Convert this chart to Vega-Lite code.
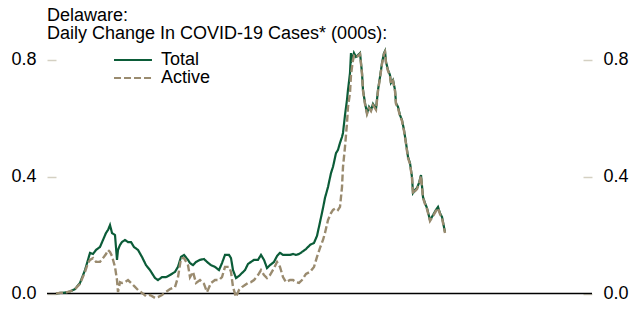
{
  "$schema": "https://vega.github.io/schema/vega-lite/v6.json",
  "width": 545,
  "height": 255,
  "autosize": {"type": "none"},
  "padding": {"left": 47, "top": 45, "right": 41, "bottom": 9},
  "background": "white",
  "title": {
    "text": ["Delaware:", "\u2005Daily Change In COVID-19 Cases* (000s):"],
    "anchor": "start",
    "frame": "group",
    "font": "Liberation Sans",
    "fontSize": 18,
    "fontWeight": "normal",
    "color": "black",
    "lineHeight": 18,
    "offset": 2
  },
  "config": {"view": {"stroke": null}, "font": "Liberation Sans"},
  "data": {"values": [
    {"d":"2020-02-29","Total":0,"Active":0},
    {"d":"2020-03-04","Total":0.002,"Active":0.002},
    {"d":"2020-03-09","Total":0.003,"Active":0.003},
    {"d":"2020-03-14","Total":0.007,"Active":0.007},
    {"d":"2020-03-19","Total":0.015,"Active":0.015},
    {"d":"2020-03-24","Total":0.036,"Active":0.033},
    {"d":"2020-03-29","Total":0.080,"Active":0.074},
    {"d":"2020-04-01","Total":0.115,"Active":0.104},
    {"d":"2020-04-03","Total":0.139,"Active":0.115},
    {"d":"2020-04-06","Total":0.135,"Active":0.121},
    {"d":"2020-04-09","Total":0.149,"Active":0.108},
    {"d":"2020-04-13","Total":0.159,"Active":0.108},
    {"d":"2020-04-16","Total":0.183,"Active":0.121},
    {"d":"2020-04-19","Total":0.207,"Active":0.135},
    {"d":"2020-04-21","Total":0.217,"Active":0.149},
    {"d":"2020-04-23","Total":0.234,"Active":0.142},
    {"d":"2020-04-25","Total":0.207,"Active":0.128},
    {"d":"2020-04-28","Total":0.200,"Active":0.091},
    {"d":"2020-04-30","Total":0.115,"Active":0.046},
    {"d":"2020-05-01","Total":0.149,"Active":0.005},
    {"d":"2020-05-03","Total":0.166,"Active":0.039},
    {"d":"2020-05-05","Total":0.176,"Active":0.036},
    {"d":"2020-05-08","Total":0.183,"Active":0.039},
    {"d":"2020-05-11","Total":0.176,"Active":0.046},
    {"d":"2020-05-14","Total":0.176,"Active":0.036},
    {"d":"2020-05-17","Total":0.159,"Active":0.026},
    {"d":"2020-05-21","Total":0.149,"Active":0.012},
    {"d":"2020-05-25","Total":0.125,"Active":0.002},
    {"d":"2020-05-29","Total":0.097,"Active":-0.009},
    {"d":"2020-06-02","Total":0.080,"Active":-0.005},
    {"d":"2020-06-07","Total":0.053,"Active":-0.015},
    {"d":"2020-06-10","Total":0.046,"Active":-0.012},
    {"d":"2020-06-14","Total":0.056,"Active":-0.005},
    {"d":"2020-06-18","Total":0.056,"Active":0.005},
    {"d":"2020-06-22","Total":0.063,"Active":0.015},
    {"d":"2020-06-27","Total":0.074,"Active":0.022},
    {"d":"2020-06-30","Total":0.091,"Active":0.056},
    {"d":"2020-07-03","Total":0.125,"Active":0.121},
    {"d":"2020-07-06","Total":0.132,"Active":0.121},
    {"d":"2020-07-10","Total":0.115,"Active":0.097},
    {"d":"2020-07-12","Total":0.104,"Active":0.056},
    {"d":"2020-07-15","Total":0.097,"Active":0.074},
    {"d":"2020-07-18","Total":0.108,"Active":0.036},
    {"d":"2020-07-22","Total":0.115,"Active":0.046},
    {"d":"2020-07-26","Total":0.118,"Active":0.033},
    {"d":"2020-07-29","Total":0.108,"Active":0.005},
    {"d":"2020-08-02","Total":0.097,"Active":0.036},
    {"d":"2020-08-06","Total":0.091,"Active":0.046},
    {"d":"2020-08-10","Total":0.080,"Active":0.046},
    {"d":"2020-08-13","Total":0.104,"Active":0.056},
    {"d":"2020-08-16","Total":0.132,"Active":0.091},
    {"d":"2020-08-20","Total":0.132,"Active":0.091},
    {"d":"2020-08-22","Total":0.121,"Active":0.074},
    {"d":"2020-08-24","Total":0.080,"Active":0.022},
    {"d":"2020-08-27","Total":0.053,"Active":-0.012},
    {"d":"2020-08-30","Total":0.060,"Active":0.012},
    {"d":"2020-09-02","Total":0.070,"Active":0.022},
    {"d":"2020-09-05","Total":0.080,"Active":0.029},
    {"d":"2020-09-08","Total":0.101,"Active":0.036},
    {"d":"2020-09-11","Total":0.108,"Active":0.039},
    {"d":"2020-09-14","Total":0.115,"Active":0.046},
    {"d":"2020-09-18","Total":0.115,"Active":0.063},
    {"d":"2020-09-21","Total":0.132,"Active":0.080},
    {"d":"2020-09-24","Total":0.115,"Active":0.063},
    {"d":"2020-09-27","Total":0.087,"Active":0.053},
    {"d":"2020-09-30","Total":0.097,"Active":0.063},
    {"d":"2020-10-04","Total":0.108,"Active":0.087},
    {"d":"2020-10-07","Total":0.128,"Active":0.108},
    {"d":"2020-10-10","Total":0.139,"Active":0.091},
    {"d":"2020-10-13","Total":0.132,"Active":0.056},
    {"d":"2020-10-16","Total":0.132,"Active":0.039},
    {"d":"2020-10-20","Total":0.132,"Active":0.046},
    {"d":"2020-10-23","Total":0.135,"Active":0.046},
    {"d":"2020-10-26","Total":0.132,"Active":0.039},
    {"d":"2020-10-29","Total":0.135,"Active":0.036},
    {"d":"2020-11-01","Total":0.142,"Active":0.046},
    {"d":"2020-11-05","Total":0.152,"Active":0.067},
    {"d":"2020-11-09","Total":0.166,"Active":0.074},
    {"d":"2020-11-13","Total":0.173,"Active":0.091},
    {"d":"2020-11-16","Total":0.197,"Active":0.125},
    {"d":"2020-11-19","Total":0.244,"Active":0.156},
    {"d":"2020-11-22","Total":0.292,"Active":0.183},
    {"d":"2020-11-24","Total":0.327,"Active":0.207},
    {"d":"2020-11-27","Total":0.364,"Active":0.251},
    {"d":"2020-11-30","Total":0.412,"Active":0.275},
    {"d":"2020-12-02","Total":0.433,"Active":0.286},
    {"d":"2020-12-05","Total":0.480,"Active":0.292},
    {"d":"2020-12-07","Total":0.491,"Active":0.286},
    {"d":"2020-12-09","Total":0.515,"Active":0.296},
    {"d":"2020-12-11","Total":0.535,"Active":0.364},
    {"d":"2020-12-12","Total":0.549,"Active":0.433},
    {"d":"2020-12-14","Total":0.610,"Active":0.501},
    {"d":"2020-12-16","Total":0.662,"Active":0.583},
    {"d":"2020-12-17","Total":0.696,"Active":0.638},
    {"d":"2020-12-19","Total":0.754,"Active":0.686},
    {"d":"2020-12-20","Total":0.822,"Active":0.747},
    {"d":"2020-12-21","Total":0.798,"Active":0.774},
    {"d":"2020-12-22","Total":0.805,"Active":0.798},
    {"d":"2020-12-23","Total":0.822,"Active":0.812},
    {"d":"2020-12-25","Total":0.809,"Active":0.806},
    {"d":"2020-12-27","Total":0.815,"Active":0.812},
    {"d":"2020-12-29","Total":0.822,"Active":0.819},
    {"d":"2020-12-31","Total":0.754,"Active":0.751},
    {"d":"2021-01-01","Total":0.696,"Active":0.693},
    {"d":"2021-01-03","Total":0.651,"Active":0.648},
    {"d":"2021-01-05","Total":0.617,"Active":0.614},
    {"d":"2021-01-07","Total":0.638,"Active":0.634},
    {"d":"2021-01-09","Total":0.627,"Active":0.624},
    {"d":"2021-01-11","Total":0.648,"Active":0.644},
    {"d":"2021-01-14","Total":0.631,"Active":0.628},
    {"d":"2021-01-16","Total":0.696,"Active":0.692},
    {"d":"2021-01-18","Total":0.740,"Active":0.737},
    {"d":"2021-01-20","Total":0.788,"Active":0.785},
    {"d":"2021-01-22","Total":0.822,"Active":0.819},
    {"d":"2021-01-23","Total":0.829,"Active":0.826},
    {"d":"2021-01-24","Total":0.792,"Active":0.788},
    {"d":"2021-01-26","Total":0.764,"Active":0.761},
    {"d":"2021-01-28","Total":0.747,"Active":0.744},
    {"d":"2021-01-29","Total":0.720,"Active":0.716},
    {"d":"2021-01-31","Total":0.730,"Active":0.727},
    {"d":"2021-02-02","Total":0.696,"Active":0.692},
    {"d":"2021-02-03","Total":0.651,"Active":0.648},
    {"d":"2021-02-05","Total":0.638,"Active":0.634},
    {"d":"2021-02-07","Total":0.610,"Active":0.607},
    {"d":"2021-02-09","Total":0.593,"Active":0.590},
    {"d":"2021-02-11","Total":0.559,"Active":0.556},
    {"d":"2021-02-13","Total":0.515,"Active":0.511},
    {"d":"2021-02-15","Total":0.467,"Active":0.463},
    {"d":"2021-02-17","Total":0.446,"Active":0.443},
    {"d":"2021-02-19","Total":0.398,"Active":0.395},
    {"d":"2021-02-20","Total":0.344,"Active":0.340},
    {"d":"2021-02-22","Total":0.354,"Active":0.350},
    {"d":"2021-02-24","Total":0.361,"Active":0.357},
    {"d":"2021-02-26","Total":0.378,"Active":0.374},
    {"d":"2021-02-28","Total":0.405,"Active":0.402},
    {"d":"2021-03-02","Total":0.330,"Active":0.327},
    {"d":"2021-03-04","Total":0.309,"Active":0.306},
    {"d":"2021-03-06","Total":0.292,"Active":0.289},
    {"d":"2021-03-09","Total":0.251,"Active":0.248},
    {"d":"2021-03-12","Total":0.268,"Active":0.265},
    {"d":"2021-03-15","Total":0.286,"Active":0.282},
    {"d":"2021-03-17","Total":0.296,"Active":0.292},
    {"d":"2021-03-19","Total":0.275,"Active":0.272},
    {"d":"2021-03-21","Total":0.262,"Active":0.258},
    {"d":"2021-03-23","Total":0.227,"Active":0.224},
    {"d":"2021-03-24","Total":0.210,"Active":0.207}
  ]},
  "transform": [{"fold": ["Total", "Active"], "as": ["series", "value"]}],
  "layer": [
    {
      "data": {"values": [{"v": 0}]},
      "transform": [],
      "mark": {"type": "rule", "color": "black", "strokeWidth": 1.5},
      "encoding": {
        "y": {"field": "v", "type": "quantitative", "scale": {"domain": [-0.0222, 0.8496], "nice": false, "zero": false}, "axis": null}
      }
    },
    {
      "transform": [{"filter": "datum.series === 'Total'"}],
      "mark": {"type": "line", "strokeWidth": 2.2, "interpolate": "linear"},
      "encoding": {
        "x": {"field": "d", "type": "temporal", "scale": {"domain": ["2020-02-20", "2021-08-18"]}, "axis": null},
        "y": {"field": "value", "type": "quantitative", "scale": {"domain": [-0.0222, 0.8496], "nice": false, "zero": false},
          "axis": {"orient": "left", "values": [0, 0.4, 0.8], "format": ".1f", "domain": false, "grid": false, "tickSize": 9, "tickColor": "#d4d0c2", "tickWidth": 1.5, "offset": -9, "labelPadding": 11, "labelFont": "Liberation Sans", "labelFontSize": 18, "labelColor": "black", "title": null}},
        "color": {"field": "series", "type": "nominal", "scale": {"domain": ["Total", "Active"], "range": ["#0b5c38", "#9a8b6f"]},
          "legend": {"orient": "none", "legendX": 77, "legendY": 6, "title": null, "symbolType": "M-4,0H4", "symbolSize": 90, "symbolStrokeWidth": 2.2, "labelFont": "Liberation Sans", "labelFontSize": 18, "labelColor": "black", "labelOffset": 19, "rowPadding": -2, "padding": 0}},
        "strokeDash": {"field": "series", "type": "nominal", "scale": {"domain": ["Total", "Active"], "range": [[1, 0], [7, 3]]},
          "legend": {"orient": "none", "legendX": 77, "legendY": 6, "title": null, "symbolType": "M-4,0H4", "symbolSize": 90, "symbolStrokeWidth": 2.2, "labelFont": "Liberation Sans", "labelFontSize": 18, "labelColor": "black", "labelOffset": 19, "rowPadding": -2, "padding": 0}}
      }
    },
    {
      "transform": [{"filter": "datum.series === 'Active'"}],
      "mark": {"type": "line", "strokeWidth": 2.4, "interpolate": "linear"},
      "encoding": {
        "x": {"field": "d", "type": "temporal", "scale": {"domain": ["2020-02-20", "2021-08-18"]}, "axis": null},
        "y": {"field": "value", "type": "quantitative", "scale": {"domain": [-0.0222, 0.8496], "nice": false, "zero": false},
          "axis": {"orient": "right", "values": [0, 0.4, 0.8], "format": ".1f", "domain": false, "grid": false, "tickSize": 9, "tickColor": "#d4d0c2", "tickWidth": 1.5, "offset": -9, "labelPadding": 11, "labelFont": "Liberation Sans", "labelFontSize": 18, "labelColor": "black", "title": null}},
        "color": {"field": "series", "type": "nominal", "scale": {"domain": ["Total", "Active"], "range": ["#0b5c38", "#9a8b6f"]}},
        "strokeDash": {"field": "series", "type": "nominal", "scale": {"domain": ["Total", "Active"], "range": [[1, 0], [7, 3]]}}
      }
    }
  ],
  "resolve": {"axis": {"y": "independent"}}
}
